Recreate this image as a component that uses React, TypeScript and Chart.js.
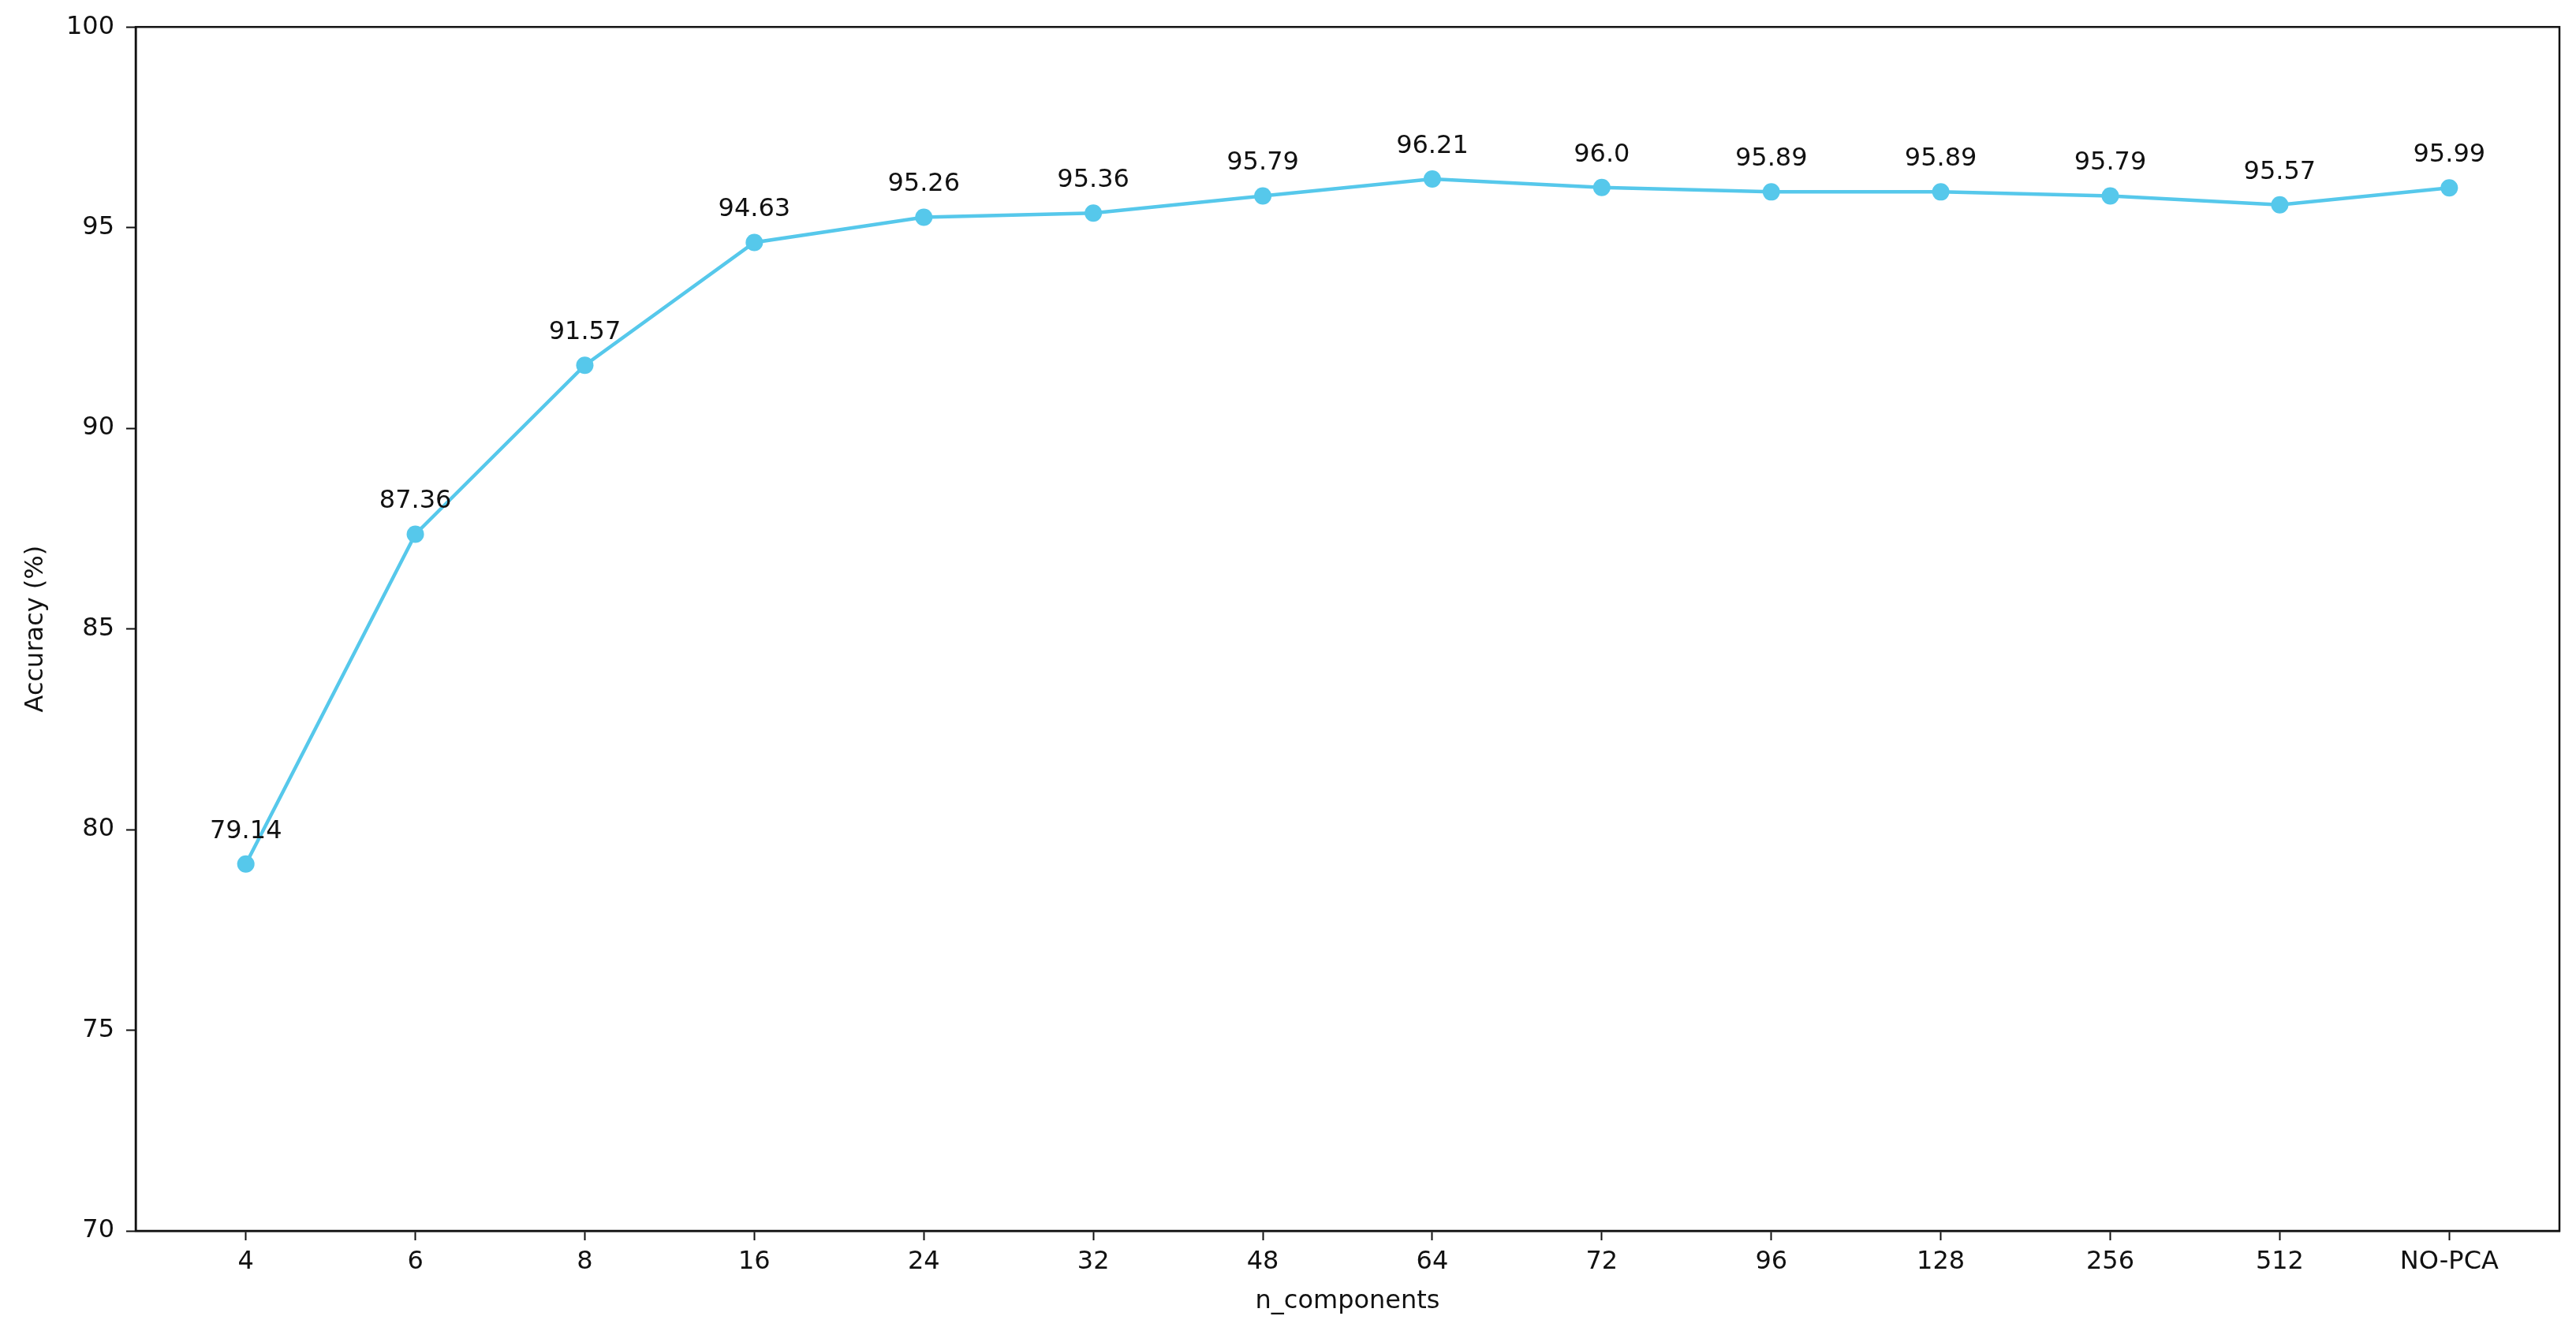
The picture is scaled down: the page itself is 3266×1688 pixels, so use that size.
import React, { useEffect, useRef } from "react";
import { Chart, registerables } from "chart.js";

Chart.register(...registerables);

const categories = ["4", "6", "8", "16", "24", "32", "48", "64", "72", "96", "128", "256", "512", "NO-PCA"];
const accuracy = [79.14, 87.36, 91.57, 94.63, 95.26, 95.36, 95.79, 96.21, 96.0, 95.89, 95.89, 95.79, 95.57, 95.99];
const yTicks = [70, 75, 80, 85, 90, 95, 100];

const W = 3266;
const H = 1688;
const FONT = "'DejaVu Sans', sans-serif";
const FS = 32;
const LINE = "#56C8EB";
const INK = "#111111";

const fmt = (v: number) => (Number.isInteger(v) ? v.toFixed(1) : String(v));

const framePlugin = {
  id: "frame",
  afterDraw(chart: any) {
    const { ctx, chartArea } = chart;
    ctx.save();
    ctx.strokeStyle = INK;
    ctx.lineWidth = 2.5;
    ctx.strokeRect(chartArea.left, chartArea.top, chartArea.right - chartArea.left, chartArea.bottom - chartArea.top);
    ctx.restore();
  },
};

const labelPlugin = {
  id: "pointLabels",
  afterDatasetsDraw(chart: any) {
    const { ctx } = chart;
    const meta = chart.getDatasetMeta(0);
    ctx.save();
    ctx.font = `${FS}px ${FONT}`;
    ctx.fillStyle = INK;
    ctx.textAlign = "center";
    ctx.textBaseline = "alphabetic";
    meta.data.forEach((pt: any, i: number) => {
      ctx.fillText(fmt(accuracy[i]), pt.x, pt.y - 33);
    });
    ctx.restore();
  },
};

export default function App() {
  const ref = useRef<HTMLCanvasElement | null>(null);

  useEffect(() => {
    if (!ref.current) return;
    const chart = new Chart(ref.current, {
      type: "line",
      data: {
        datasets: [
          {
            data: accuracy.map((v, i) => ({ x: i, y: v })),
            borderColor: LINE,
            backgroundColor: LINE,
            borderWidth: 4.5,
            pointRadius: 11,
            pointBorderWidth: 0,
            pointBackgroundColor: LINE,
            tension: 0,
            fill: false,
          },
        ],
      },
      options: {
        animation: false,
        responsive: false,
        events: [],
        layout: { padding: { left: 0, top: 33, right: 21, bottom: 0 } },
        plugins: {
          legend: { display: false },
          tooltip: { enabled: false },
        },
        scales: {
          x: {
            type: "linear",
            min: -0.65,
            max: categories.length - 1 + 0.65,
            afterBuildTicks: (scale: any) => {
              scale.ticks = categories.map((_, i) => ({ value: i }));
            },
            afterFit: (scale: any) => {
              scale.height = H - 1561;
            },
            ticks: {
              callback: (v: any) => categories[Math.round(Number(v))] ?? "",
              font: { family: FONT, size: FS },
              color: INK,
              padding: 8,
              maxRotation: 0,
              autoSkip: false,
            },
            grid: {
              drawOnChartArea: false,
              drawTicks: true,
              tickLength: 12,
              tickWidth: 2,
              tickColor: INK,
              color: INK,
            },
            border: { display: true, color: INK, width: 2.5 },
            title: {
              display: true,
              text: "n_components",
              font: { family: FONT, size: FS },
              color: INK,
              padding: { top: 0, bottom: 18 },
            },
          },
          y: {
            type: "linear",
            min: 70,
            max: 100,
            afterBuildTicks: (scale: any) => {
              scale.ticks = yTicks.map((v) => ({ value: v }));
            },
            afterFit: (scale: any) => {
              scale.width = 172;
            },
            ticks: {
              font: { family: FONT, size: FS },
              color: INK,
              padding: 15,
            },
            grid: {
              drawOnChartArea: false,
              drawTicks: true,
              tickLength: 12,
              tickWidth: 2,
              tickColor: INK,
              color: INK,
            },
            border: { display: true, color: INK, width: 2.5 },
            title: {
              display: true,
              text: "Accuracy (%)",
              font: { family: FONT, size: FS },
              color: INK,
              padding: { top: 26, bottom: 0 },
            },
          },
        },
      },
      plugins: [framePlugin, labelPlugin],
    });
    return () => chart.destroy();
  }, []);

  return (
    <div style={{ position: "fixed", left: 0, top: 0, width: W, height: H, background: "#fff" }}>
      <canvas ref={ref} width={W} height={H} style={{ display: "block", width: W, height: H }} />
    </div>
  );
}
